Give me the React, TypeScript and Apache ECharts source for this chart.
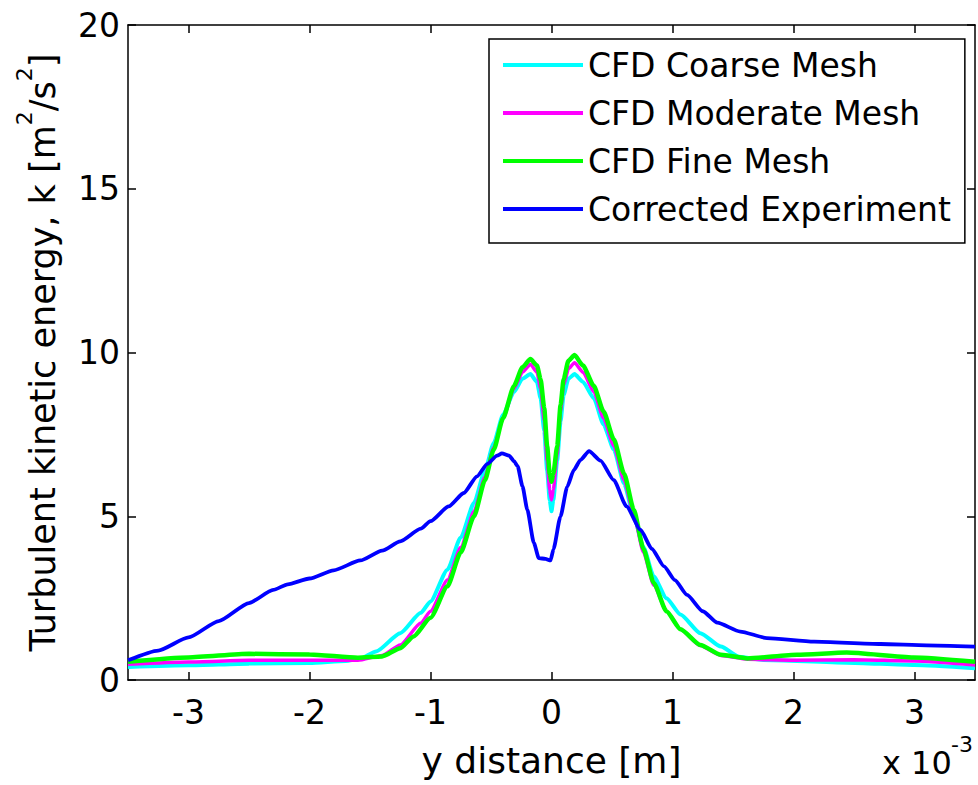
import React, { useEffect, useRef } from "react";
import * as echarts from "echarts";

const FONT = "'DejaVu Sans', Verdana, sans-serif";

// Lateral position y (in units of 1e-3 m) and turbulent kinetic energy k [m^2/s^2]
const coarseY = [-3.5, -3.0, -2.5, -2.0, -1.7, -1.58, -1.45, -1.25, -1.08, -1.0, -0.86, -0.75, -0.64, -0.55, -0.477, -0.4, -0.31, -0.24, -0.174, -0.12, -0.09, -0.06, -0.036, -0.015, 0, 0.015, 0.047, 0.075, 0.1, 0.14, 0.19, 0.26, 0.35, 0.43, 0.515, 0.6, 0.68, 0.76, 0.845, 0.95, 1.066, 1.23, 1.4, 1.55, 1.75, 2.44, 3.0, 3.5];
const coarseK = [0.4, 0.45, 0.5, 0.52, 0.58, 0.65, 0.87, 1.43, 2.05, 2.4, 3.37, 4.35, 5.41, 6.4, 7.24, 8.1, 8.8, 9.2, 9.34, 9.1, 8.6, 7.6, 6.4, 5.5, 5.15, 5.5, 6.7, 7.9, 8.7, 9.2, 9.34, 9.1, 8.6, 7.8, 7.04, 6.0, 5.0, 4.05, 3.16, 2.5, 2.0, 1.43, 1.02, 0.71, 0.61, 0.53, 0.46, 0.36];

const moderateY = [-3.5, -3.0, -2.5, -2.0, -1.6, -1.4, -1.25, -1.08, -1.0, -0.86, -0.75, -0.64, -0.55, -0.477, -0.4, -0.31, -0.24, -0.174, -0.12, -0.09, -0.06, -0.036, -0.015, 0, 0.015, 0.047, 0.075, 0.1, 0.14, 0.19, 0.26, 0.35, 0.43, 0.515, 0.6, 0.68, 0.76, 0.845, 0.95, 1.066, 1.23, 1.4, 1.62, 2.0, 2.5, 3.0, 3.5];
const moderateK = [0.48, 0.55, 0.6, 0.6, 0.6, 0.75, 1.07, 1.74, 2.1, 3.05, 4.05, 5.15, 6.2, 7.1, 8.0, 8.9, 9.4, 9.64, 9.4, 8.9, 7.9, 6.7, 5.8, 5.5, 5.8, 6.9, 8.2, 9.0, 9.5, 9.69, 9.4, 8.8, 8.0, 7.15, 6.1, 5.05, 3.9, 2.9, 2.1, 1.55, 1.05, 0.75, 0.63, 0.6, 0.62, 0.58, 0.46];

const fineY = [-3.5, -3.0, -2.5, -2.0, -1.6, -1.4, -1.25, -1.14, -1.0, -0.86, -0.75, -0.64, -0.55, -0.477, -0.4, -0.31, -0.24, -0.174, -0.12, -0.09, -0.06, -0.036, -0.015, 0, 0.015, 0.047, 0.075, 0.1, 0.14, 0.19, 0.26, 0.35, 0.43, 0.515, 0.6, 0.68, 0.76, 0.845, 0.95, 1.066, 1.23, 1.4, 1.62, 2.03, 2.44, 2.99, 3.5];
const fineK = [0.56, 0.69, 0.8, 0.78, 0.68, 0.72, 0.97, 1.33, 1.9, 2.86, 3.9, 5.0, 6.1, 7.04, 8.0, 8.98, 9.55, 9.8, 9.6, 9.18, 8.3, 7.14, 6.3, 6.05, 6.3, 7.14, 8.4, 9.18, 9.75, 9.92, 9.6, 8.98, 8.2, 7.35, 6.3, 5.2, 4.0, 2.96, 2.1, 1.55, 1.07, 0.77, 0.66, 0.77, 0.84, 0.69, 0.56];

const experimentY = [-3.5, -3.25, -3.0, -2.75, -2.5, -2.3, -2.18, -2.0, -1.8, -1.58, -1.4, -1.25, -1.08, -1.0, -0.85, -0.725, -0.615, -0.53, -0.45, -0.41, -0.35, -0.31, -0.28, -0.24, -0.2, -0.146, -0.105, -0.05, -0.008, 0.016, 0.074, 0.13, 0.184, 0.24, 0.31, 0.405, 0.515, 0.62, 0.735, 0.83, 0.93, 1.02, 1.12, 1.25, 1.37, 1.56, 1.78, 2.17, 2.72, 3.1, 3.5];
const experimentK = [0.6, 0.9, 1.3, 1.8, 2.35, 2.75, 2.92, 3.1, 3.35, 3.65, 3.95, 4.23, 4.62, 4.85, 5.3, 5.71, 6.22, 6.6, 6.85, 6.92, 6.85, 6.68, 6.53, 5.92, 5.2, 4.19, 3.72, 3.7, 3.65, 3.99, 4.99, 5.9, 6.41, 6.72, 6.99, 6.7, 6.1, 5.3, 4.59, 4.0, 3.47, 3.05, 2.6, 2.1, 1.75, 1.48, 1.28, 1.17, 1.1, 1.06, 1.02];

const xTickValues = [-3, -2, -1, 0, 1, 2, 3];

const seriesDefs = [
  { name: "CFD Coarse Mesh", color: "#00ffff", width: 4, xs: coarseY, ks: coarseK },
  { name: "CFD Moderate Mesh", color: "#ff00ff", width: 3.5, xs: moderateY, ks: moderateK },
  { name: "CFD Fine Mesh", color: "#00ff00", width: 4.5, xs: fineY, ks: fineK },
  { name: "Corrected Experiment", color: "#0000ff", width: 3.8, xs: experimentY, ks: experimentK },
];

const zip = (xs: number[], ks: number[]) => xs.map((x, i) => [x, ks[i]]);

export default function App() {
  const ref = useRef<HTMLDivElement>(null);

  useEffect(() => {
    if (!ref.current) return;
    const chart = echarts.init(ref.current, undefined, { renderer: "svg" });

    const frameLine = { show: true, onZero: false, lineStyle: { color: "#000", width: 1.5 } };
    const innerTick = { show: true, inside: true, length: 8, lineStyle: { color: "#000", width: 1.5 } };

    chart.setOption({
      animation: false,
      backgroundColor: "#fff",
      grid: { left: 128, right: 3, top: 25, bottom: 105, containLabel: false, outerBoundsMode: "none" },
      legend: {
        orient: "vertical",
        left: 489,
        top: 39,
        padding: [6, 14, 14, 14],
        itemGap: 8,
        itemWidth: 80,
        itemHeight: 4,
        icon: "rect",
        borderColor: "#000",
        borderWidth: 1.5,
        backgroundColor: "#fff",
        selectedMode: false,
        textStyle: { fontFamily: FONT, fontSize: 33, color: "#000", lineHeight: 40 },
        data: seriesDefs.map((s) => s.name),
      },
      xAxis: [
        {
          type: "value",
          position: "bottom",
          min: -3.5,
          max: 3.5,
          axisLine: frameLine,
          axisTick: { ...innerTick, customValues: xTickValues },
          axisLabel: {
            customValues: xTickValues,
            fontFamily: FONT,
            fontSize: 33,
            color: "#000",
            margin: 16,
          },
          splitLine: { show: false },
          name: "y distance [m]",
          nameLocation: "middle",
          nameGap: 62,
          nameMoveOverlap: false,
          nameTextStyle: { fontFamily: FONT, fontSize: 36, color: "#000" },
        },
        {
          type: "value",
          position: "top",
          min: -3.5,
          max: 3.5,
          axisLine: frameLine,
          axisTick: { ...innerTick, customValues: xTickValues },
          axisLabel: { show: false },
          splitLine: { show: false },
        },
      ],
      yAxis: [
        {
          type: "value",
          position: "left",
          min: 0,
          max: 20,
          interval: 5,
          axisLine: frameLine,
          axisTick: innerTick,
          axisLabel: { fontFamily: FONT, fontSize: 33, color: "#000", margin: 8 },
          splitLine: { show: false },
          name: "{t|Turbulent kinetic energy, k [m}{s|2}{t|/s}{s|2}{t|]}",
          nameLocation: "middle",
          nameGap: 55,
          nameMoveOverlap: false,
          nameTextStyle: {
            fontFamily: FONT,
            fontSize: 35,
            color: "#000",
            rich: {
              t: { fontFamily: FONT, fontSize: 35, lineHeight: 60, color: "#000" },
              s: { fontFamily: FONT, fontSize: 22, lineHeight: 22, verticalAlign: "top", color: "#000" },
            },
          },
        },
        {
          type: "value",
          position: "right",
          min: 0,
          max: 20,
          interval: 5,
          axisLine: frameLine,
          axisTick: innerTick,
          axisLabel: { show: false },
          splitLine: { show: false },
        },
      ],
      graphic: [
        {
          type: "text",
          left: 882,
          top: 747,
          style: { text: "x 10", fontFamily: FONT, fontSize: 32, fill: "#000" },
        },
        {
          type: "text",
          left: 951,
          top: 733,
          style: { text: "-3", fontFamily: FONT, fontSize: 22, fill: "#000" },
        },
      ],
      series: seriesDefs.map((s) => ({
        name: s.name,
        type: "line",
        xAxisIndex: 0,
        yAxisIndex: 0,
        data: zip(s.xs, s.ks),
        color: s.color,
        showSymbol: false,
        symbol: "none",
        smooth: 0.2,
        smoothMonotone: "x",
        lineStyle: { color: s.color, width: s.width },
        emphasis: { disabled: true },
      })),
    });

    return () => chart.dispose();
  }, []);

  return (
    <div
      ref={ref}
      style={{ position: "fixed", left: 0, top: 0, width: 978, height: 785, background: "#fff" }}
    />
  );
}
